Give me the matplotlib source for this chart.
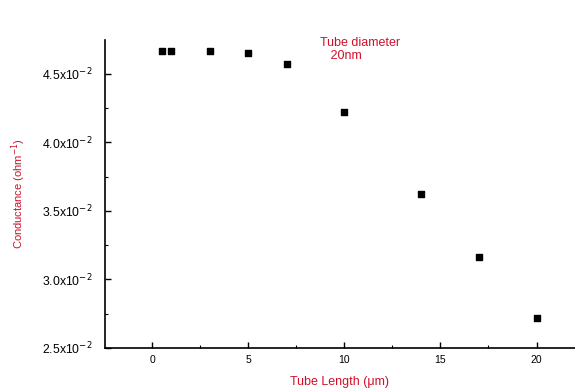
import matplotlib
matplotlib.use("Agg")
import matplotlib.pyplot as plt
from matplotlib.ticker import MultipleLocator

plt.rcParams['font.family'] = ['Liberation Sans', 'DejaVu Sans']

tube_length = [0.5, 1.0, 3.0, 5.0, 7.0, 10.0, 14.0, 17.0, 20.0]
conductance = [4.665, 4.665, 4.665, 4.655, 4.575, 4.22, 3.625, 3.165, 2.72]  # x10^-2 ohm^-1
y_ticks = [2.5, 3.0, 3.5, 4.0, 4.5]
y_tick_labels = [r'2.5x10$^{-2}$', r'3.0x10$^{-2}$', r'3.5x10$^{-2}$', r'4.0x10$^{-2}$', r'4.5x10$^{-2}$']
x_ticks = [0, 5, 10, 15, 20]

fig = plt.figure(figsize=(5.75, 3.9), dpi=100)
ax = fig.add_axes([0.1826, 0.1077, 0.8174, 0.7897])
ax.scatter(tube_length, conductance, marker='s', s=24, color='black', zorder=3)

ax.set_xlim(-2.45, 22.0)
ax.set_ylim(2.5, 4.748)
ax.set_xticks(x_ticks)
ax.xaxis.set_minor_locator(MultipleLocator(2.5))
ax.set_yticks(y_ticks)
ax.set_yticklabels(y_tick_labels)
ax.yaxis.set_minor_locator(MultipleLocator(0.25))

for s in ['top', 'right']:
    ax.spines[s].set_visible(False)
for s in ['left', 'bottom']:
    ax.spines[s].set_linewidth(1.2)

ax.tick_params(axis='both', which='major', direction='in', length=4, width=1, labelsize=7.5, pad=5)
ax.tick_params(axis='y', which='major', labelsize=8.8, pad=9)
ax.tick_params(axis='both', which='minor', direction='in', length=2, width=0.8)

ax.set_xlabel('Tube Length (\u03bcm)', color='#d0102a', fontsize=9, labelpad=8)
ax.set_ylabel('Conductance (ohm$^{-1}$)', color='#d0102a', fontsize=8, labelpad=10)

ax.text(0.457, 1.01, 'Tube diameter\n   20nm', transform=ax.transAxes, color='#d0102a',
        fontsize=9, va='top', ha='left', linespacing=1.1)

fig.savefig('out.png', dpi=100)
